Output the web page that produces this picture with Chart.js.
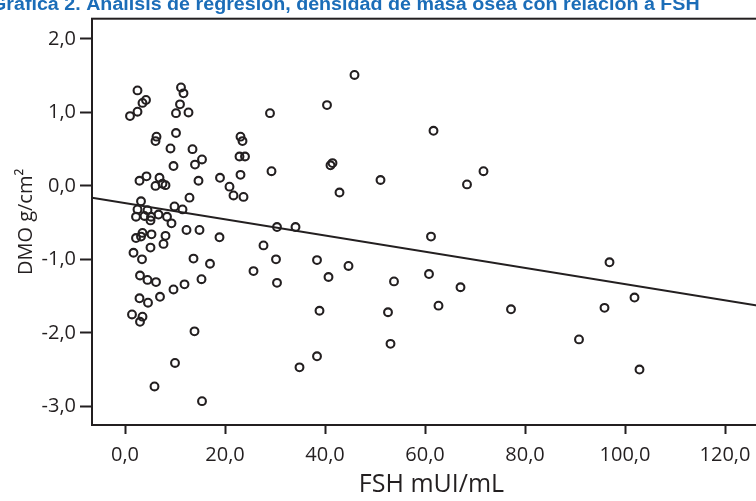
<!DOCTYPE html>
<html><head><meta charset="utf-8"><title>Gráfica 2</title>
<script src="https://cdn.jsdelivr.net/npm/chart.js@4.4.1/dist/chart.umd.min.js"></script>
<style>
html,body{margin:0;padding:0;background:#fff;overflow:hidden;}
#wrap{position:relative;width:780px;height:501px;}
</style></head><body>
<div id="wrap"><canvas id="chart"></canvas></div>
<script>
var titleText = "Gráfica 2. Análisis de regresión, densidad de masa ósea con relación a FSH";
var xTitle = "FSH mUI/mL";
var yTitle = "DMO g/cm²";
var xTicks = [0, 20, 40, 60, 80, 100, 120];
var yTicks = [-3, -2, -1, 0, 1, 2];

// FSH (x) y DMO (y)
var fsh = [2.5, 4.2, 3.5, 2.5, 1.0, 11.2, 11.7, 11.0, 10.2, 12.7,
           6.3, 6.1, 10.2, 9.1, 13.5, 15.4, 14.0, 9.7, 2.9, 4.3,
           6.9, 6.1, 7.5, 8.1, 14.7, 19.0, 20.9, 21.7, 12.9, 3.2,
           2.5, 4.5, 9.9, 11.5, 2.2, 3.9, 5.2, 6.7, 5.1, 8.4,
           9.3, 12.3, 14.9, 18.9, 3.5, 3.2, 5.3, 8.1, 2.2, 7.7,
           5.1, 1.7, 3.4, 13.7, 17.0, 3.0, 4.5, 6.2, 15.3, 11.9,
           9.7, 7.0, 2.9, 4.6, 1.4, 3.5, 3.0, 13.9, 10.0, 5.9,
           15.4, 45.9, 40.4, 29.0, 61.7, 23.1, 23.5, 22.9, 24.0, 23.1,
           29.3, 41.5, 41.1, 51.1, 68.4, 71.7, 42.9, 23.7, 30.4, 34.1,
           61.2, 27.7, 30.2, 25.7, 30.4, 38.4, 40.7, 44.7, 53.8, 60.8,
           67.1, 62.7, 38.9, 52.6, 53.1, 38.4, 34.9, 96.9, 101.9, 95.9,
           77.2, 90.8, 102.9];
var dmo = [1.30, 1.17, 1.13, 1.01, 0.95, 1.34, 1.26, 1.11, 0.99, 1.00,
           0.67, 0.61, 0.72, 0.51, 0.50, 0.36, 0.29, 0.27, 0.07, 0.13,
           0.11, 0.00, 0.03, 0.01, 0.07, 0.11, -0.01, -0.13, -0.16, -0.21,
           -0.32, -0.33, -0.28, -0.32, -0.42, -0.41, -0.42, -0.39, -0.47, -0.42,
           -0.51, -0.60, -0.60, -0.70, -0.64, -0.69, -0.66, -0.68, -0.71, -0.79,
           -0.84, -0.91, -1.00, -0.99, -1.06, -1.22, -1.28, -1.31, -1.27, -1.34,
           -1.41, -1.51, -1.53, -1.59, -1.75, -1.78, -1.85, -1.98, -2.41, -2.73,
           -2.93, 1.51, 1.10, 0.99, 0.75, 0.67, 0.61, 0.40, 0.40, 0.15,
           0.20, 0.31, 0.28, 0.08, 0.02, 0.20, -0.09, -0.15, -0.56, -0.56,
           -0.69, -0.81, -1.00, -1.16, -1.32, -1.01, -1.24, -1.09, -1.30, -1.20,
           -1.38, -1.63, -1.70, -1.72, -2.15, -2.32, -2.47, -1.04, -1.52, -1.66,
           -1.68, -2.09, -2.50];

var fitX = [-6.6, 129.2];
var fitY = [-0.16, -1.66];

var ink = '#231f20';
var fmt = function(v) { return Number(v).toFixed(1).replace('.', ','); };

var framePlugin = {
    id: 'frame',
    afterDraw: function(c) {
        var a = c.chartArea, ctx = c.ctx;
        ctx.save(); ctx.strokeStyle = ink; ctx.lineWidth = 2;
        ctx.strokeRect(a.left, a.top, a.right - a.left, a.bottom - a.top);
        ctx.restore();
    }
};
var titlePlugin = {
    id: 'topTitle',
    afterDraw: function(c) {
        var ctx = c.ctx;
        ctx.save();
        ctx.font = 'bold 18px "Liberation Sans Narrow", "Liberation Sans", sans-serif';
        ctx.fillStyle = '#1b6db8'; ctx.textBaseline = 'alphabetic';
        var pre = ctx.measureText('Gráfica 2. Análisis de regresión, densidad d').width;
        ctx.translate(-9, 10); ctx.scale(409 / pre, 1);
        ctx.fillText(titleText, 0, 0);
        ctx.restore();
    }
};

var pts = fsh.map(function(v, i) { return {x: v, y: dmo[i]}; });
var fit = fitX.map(function(v, i) { return {x: v, y: fitY[i]}; });

new Chart(document.getElementById('chart'), {
    type: 'scatter',
    data: { datasets: [
        { data: pts, pointRadius: 3.9, pointBorderWidth: 2.1, borderColor: ink, backgroundColor: 'rgba(0,0,0,0)', pointHoverRadius: 3.9 },
        { type: 'line', data: fit, borderColor: ink, borderWidth: 2, pointRadius: 0, fill: false }
    ] },
    options: {
        responsive: true, maintainAspectRatio: false, animation: false,
        layout: { padding: { top: 18.7, right: 9, left: 0, bottom: 0 } },
        plugins: { legend: { display: false }, tooltip: { enabled: false } },
        scales: {
            x: {
                type: 'linear', min: -6.6, max: 129.2,
                afterBuildTicks: function(s) { s.ticks = xTicks.map(function(v) { return {value: v}; }); },
                afterFit: function(s) { s.height = 76; },
                grid: { drawOnChartArea: false, tickLength: 9, tickWidth: 2, tickColor: ink },
                border: { color: ink, width: 2 },
                ticks: { color: ink, padding: 9, font: { family: '"Open Sans"', size: 20 }, callback: fmt, maxRotation: 0 },
                title: { display: true, text: xTitle, color: ink, font: { family: '"Open Sans"', size: 25 }, padding: { top: 0, bottom: 1 } }
            },
            y: {
                type: 'linear', min: -3.255, max: 2.276,
                afterBuildTicks: function(s) { s.ticks = yTicks.map(function(v) { return {value: v}; }); },
                afterFit: function(s) { s.width = 92; },
                grid: { drawOnChartArea: false, tickLength: 12, tickWidth: 2, tickColor: ink },
                border: { color: ink, width: 2 },
                ticks: { color: ink, padding: 4, font: { family: '"Open Sans"', size: 20 }, callback: fmt },
                title: { display: true, text: yTitle, color: ink, font: { family: '"Open Sans"', size: 20 }, padding: { top: 14.5, bottom: 0 } }
            }
        }
    },
    plugins: [framePlugin, titlePlugin]
});
</script>
</body></html>
